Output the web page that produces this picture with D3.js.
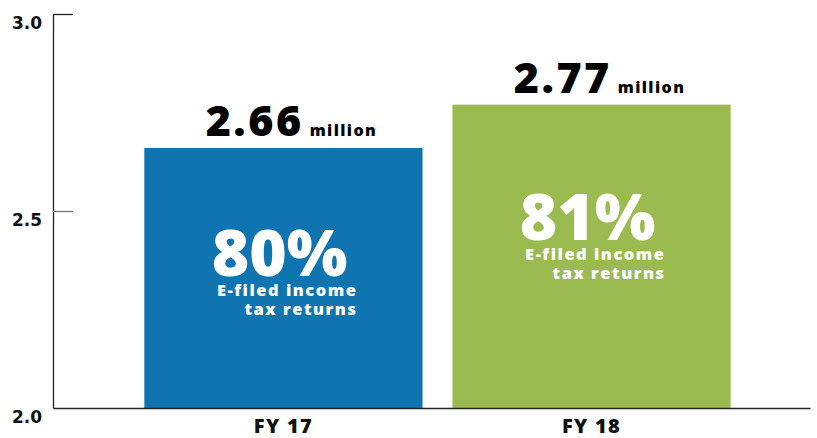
<!DOCTYPE html>
<html>
<head>
<meta charset="utf-8">
<script src="https://cdn.jsdelivr.net/npm/d3@7"></script>
<style>
  html, body { margin: 0; padding: 0; background: #fff; }
  svg { display: block; }
  text { font-family: "Open Sans", "Lato", sans-serif; }
</style>
</head>
<body>
<svg id="chart" width="817" height="438"></svg>
<script>
// ---- data ----
const categories = ["FY 17", "FY 18"];
const returnsMillions = [2.66, 2.77];
const efiledPercent = [80, 81];
const barColors = ["#0f74b0", "#9bbb50"];
const yTicks = [2.0, 2.5, 3.0];
const unitLabel = "million";
const innerLine1 = "E-filed income";
const innerLine2 = "tax returns";

// ---- layout ----
const svg = d3.select("#chart");
const mLeft = 53, mRight = 810, mTop = 14, mBottom = 408;
const innerOffsets = [128, 135];

const y = d3.scaleLinear().domain([2.0, 3.0]).range([mBottom, mTop]);
const x = d3.scaleBand()
  .domain(categories)
  .range([mLeft, mRight])
  .paddingInner(0.097)
  .paddingOuter(0.277)
  .align(0.535);

// y axis
const yAxis = d3.axisLeft(y)
  .tickValues(yTicks)
  .tickFormat(d3.format(".1f"))
  .tickSizeInner(-20)
  .tickSizeOuter(0)
  .tickPadding(11);

const gy = svg.append("g").attr("transform", `translate(${mLeft},0)`).call(yAxis);
gy.select(".domain").attr("stroke", "#222").attr("stroke-width", 1.3);
gy.selectAll(".tick line").attr("stroke", (d) => d === 2.5 ? "#777" : "#222").attr("stroke-width", 1.3);
gy.selectAll(".tick text")
  .attr("dy", "0.5em")
  .attr("y", 6)
  .attr("fill", "#111")
  .style("font-family", "'DejaVu Sans', sans-serif")
  .style("font-size", "17px")
  .style("font-weight", 700);
gy.selectAll(".tick").filter(d => d === 2.0).select("line").remove();

// bars
const data = categories.map((c, i) => ({ c, i, v: returnsMillions[i], p: efiledPercent[i], color: barColors[i] }));

svg.append("g").selectAll("rect")
  .data(data)
  .join("rect")
  .attr("x", d => x(d.c))
  .attr("y", d => y(d.v))
  .attr("width", x.bandwidth())
  .attr("height", d => y(2.0) - y(d.v))
  .attr("fill", d => d.color);

// x axis
const xAxis = d3.axisBottom(x).tickSize(0).tickPadding(9);
const gx = svg.append("g").attr("transform", `translate(0,${mBottom})`).call(xAxis);
gx.select(".domain").attr("stroke", "#222").attr("stroke-width", 1.3);
gx.selectAll(".tick text")
  .attr("fill", "#111")
  .attr("dy", "0.8em")
  .attr("letter-spacing", "1.3")
  .style("font-size", "20px")
  .style("font-weight", 800);

// value labels above bars
const vl = svg.append("g").selectAll("text")
  .data(data)
  .join("text")
  .attr("x", d => x(d.c) + x.bandwidth() / 2 + 8)
  .attr("y", d => y(d.v) - 12)
  .attr("text-anchor", "middle")
  .attr("fill", "#000");
vl.append("tspan")
  .style("font-size", "43px")
  .style("font-weight", 800)
  .attr("letter-spacing", "2.5")
  .text(d => d.v.toFixed(2));
vl.append("tspan")
  .attr("dx", 6)
  .attr("letter-spacing", "1.4")
  .style("font-size", "16px")
  .style("font-weight", 800)
  .text(unitLabel);

// inner labels
const inner = svg.append("g").selectAll("g")
  .data(data)
  .join("g")
  .attr("transform", d => `translate(${x(d.c) + x.bandwidth() / 2 + 72},${y(d.v) + innerOffsets[d.i]})`);
inner.append("text")
  .attr("text-anchor", "end")
  .attr("x", -8)
  .attr("fill", "#fff")
  .style("font-size", "64px")
  .style("font-weight", 800)
  .attr("letter-spacing", "0")
  .text(d => d.p + "%");
inner.append("text")
  .attr("text-anchor", "end")
  .attr("x", 2)
  .attr("y", 20.5)
  .attr("fill", "#fff")
  .attr("letter-spacing", "1.5")
  .style("font-size", "16.5px")
  .style("font-weight", 800)
  .text(innerLine1);
inner.append("text")
  .attr("text-anchor", "end")
  .attr("x", 2)
  .attr("y", 39)
  .attr("fill", "#fff")
  .attr("letter-spacing", "1.5")
  .style("font-size", "16.5px")
  .style("font-weight", 800)
  .text(innerLine2);
</script>
</body>
</html>
